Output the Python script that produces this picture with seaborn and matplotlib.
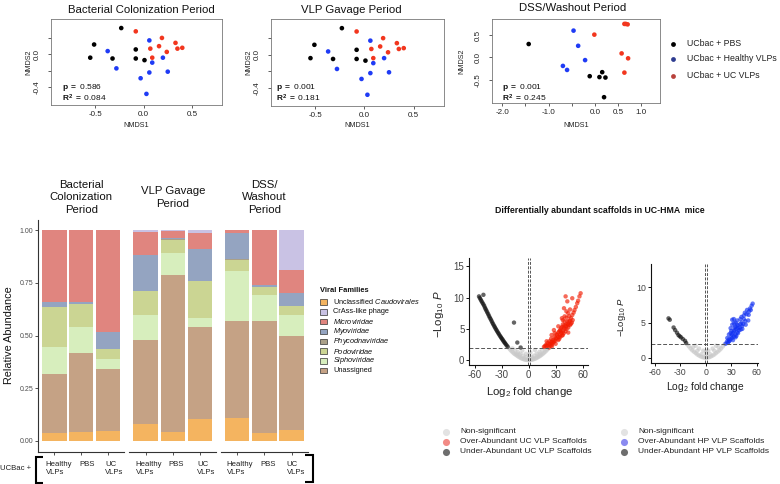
import numpy as np
import pandas as pd
import matplotlib
matplotlib.use("Agg")
import matplotlib.pyplot as plt
import seaborn as sns
from matplotlib.patches import Rectangle

sns.set_style("white")
plt.rcParams.update({
    "font.family": ["Liberation Sans", "DejaVu Sans"],
    "axes.unicode_minus": False,
    "mathtext.fontset": "custom",
    "mathtext.rm": "Liberation Sans",
    "mathtext.it": "Liberation Sans:italic",
    "mathtext.bf": "Liberation Sans:bold",
})

# ---------------- NMDS data ----------------
groups = ["UCbac + PBS", "UCbac + Healthy VLPs", "UCbac + UC VLPs"]

col_pbs_x = [-0.23, -0.51, -0.55, -0.32, -0.08, -0.08, 0.01]
col_pbs_y = [0.32, 0.12, -0.04, -0.05, 0.06, -0.05, -0.07]
col_hvlp_x = [0.06, -0.37, -0.28, 0.09, 0.20, 0.06, 0.25, -0.03, 0.03]
col_hvlp_y = [0.17, 0.04, -0.17, -0.10, -0.04, -0.22, -0.21, -0.29, -0.48]
col_uc_x = [-0.08, 0.19, 0.16, 0.07, 0.09, 0.24, 0.33, 0.35, 0.40]
col_uc_y = [0.28, 0.20, 0.10, 0.07, -0.04, 0.03, 0.14, 0.07, 0.08]

gav_pbs_x = [-0.23, -0.51, -0.55, -0.32, -0.08, -0.08, 0.01]
gav_pbs_y = [0.32, 0.12, -0.04, -0.05, 0.06, -0.05, -0.07]
gav_hvlp_x = [0.06, -0.37, -0.28, 0.09, 0.20, 0.06, 0.25, -0.03, 0.03]
gav_hvlp_y = [0.17, 0.04, -0.17, -0.10, -0.04, -0.22, -0.21, -0.29, -0.48]
gav_uc_x = [-0.08, 0.19, 0.16, 0.07, 0.09, 0.24, 0.33, 0.35, 0.40]
gav_uc_y = [0.28, 0.20, 0.10, 0.07, -0.04, 0.03, 0.14, 0.07, 0.08]

dss_pbs_x = [-1.43, -0.11, 0.10, 0.16, 0.23, 0.20]
dss_pbs_y = [0.30, -0.42, -0.44, -0.33, -0.45, -0.89]
dss_hvlp_x = [-0.46, -0.36, -0.21, -0.69, -0.60]
dss_hvlp_y = [0.60, 0.26, -0.06, -0.19, -0.28]
dss_uc_x = [0.64, 0.71, 0.67, -0.01, 0.58, 0.72, 0.64]
dss_uc_y = [0.75, 0.74, 0.75, 0.51, 0.09, -0.02, -0.34]

nmds_titles = ["Bacterial Colonization Period", "VLP Gavage Period", "DSS/Washout Period"]
nmds_p = ["0.586", "0.001", "0.001"]
nmds_r2 = ["0.084", "0.181", "0.245"]

# ---------------- Bar data ----------------
periods = ["Bacterial\nColonization\nPeriod", "VLP Gavage\nPeriod", "DSS/\nWashout\nPeriod"]
treatments = ["Healthy VLPs", "PBS", "UC VLPs"]
treat_labels = ["Healthy\nVLPs", "PBS", "UC\nVLPs"]
# order: colonization (H, PBS, UC), gavage (H, PBS, UC), DSS (H, PBS, UC)
ab_unclass_caudo = [0.037, 0.044, 0.046, 0.079, 0.044, 0.104, 0.109, 0.040, 0.052]
ab_unassigned    = [0.281, 0.372, 0.294, 0.400, 0.744, 0.439, 0.461, 0.531, 0.448]
ab_sipho         = [0.128, 0.124, 0.050, 0.119, 0.103, 0.039, 0.237, 0.122, 0.098]
ab_podo          = [0.191, 0.109, 0.047, 0.114, 0.064, 0.177, 0.052, 0.039, 0.043]
ab_phyco         = [0.000, 0.000, 0.000, 0.000, 0.005, 0.000, 0.006, 0.000, 0.000]
ab_myo           = [0.023, 0.012, 0.082, 0.171, 0.003, 0.151, 0.123, 0.010, 0.063]
ab_micro         = [0.340, 0.339, 0.481, 0.110, 0.034, 0.076, 0.012, 0.258, 0.106]
ab_crass         = [0.000, 0.000, 0.000, 0.007, 0.003, 0.014, 0.000, 0.000, 0.190]

legend_families = ["Unclassified Caudovirales", "CrAss-like phage", "Microviridae", "Myoviridae",
                   "Phycodnaviridae", "Podoviridae", "Siphoviridae", "Unassigned"]
legend_labels = [r"Unclassified $\mathit{Caudovirales}$", "CrAss-like phage", r"$\mathit{Microviridae}$",
                 r"$\mathit{Myoviridae}$", r"$\mathit{Phycodnaviridae}$", r"$\mathit{Podoviridae}$",
                 r"$\mathit{Siphoviridae}$", "Unassigned"]
fam_colors = {
    "Unclassified Caudovirales": "#F4B460",
    "CrAss-like phage": "#C9C2E4",
    "Microviridae": "#E0857F",
    "Myoviridae": "#94A4C1",
    "Phycodnaviridae": "#AAA088",
    "Podoviridae": "#CBD593",
    "Siphoviridae": "#D7EEBD",
    "Unassigned": "#C5A285",
}

# ---------------- Volcano data ----------------
v1_ns_x = [-22, -20.5, -19, -17.5, -16, -14.5, -13, -11.5, -10, -8.5, -7, -5.5, -4, -2.5, -1, 0.5, 2, 3.5, 5, 6.5,
           8, 9.5, 11, 12.5, 14, 15.5, 17, 18.5, 20, 21.5, 23, -15, -12, -9, -6, -3, 0, 3, 6, 9, 12, 15, 18, -18,
           -7, -3, 2, 7, 0, -10, 10, -5, 5, 13, -13]
v1_ns_y = [1.9, 1.65, 1.4, 1.2, 1.0, 0.85, 0.7, 0.55, 0.42, 0.3, 0.2, 0.12, 0.06, 0.02, 0.0, 0.0, 0.02, 0.05, 0.1,
           0.17, 0.26, 0.37, 0.5, 0.63, 0.78, 0.95, 1.13, 1.33, 1.55, 1.78, 1.95, 1.6, 1.3, 1.0, 0.7, 0.45, 0.35,
           0.45, 0.7, 1.0, 1.3, 1.6, 1.85, 1.85, 1.5, 1.0, 1.2, 1.6, 0.8, 0.8, 0.7, 0.35, 0.35, 1.0, 1.0]
v1_up_x = [22.6, 26, 29.5, 33, 36.5, 40, 43.5, 47, 50, 52.5, 55, 57.8, 56.5, 54, 51, 48.5, 45, 41.5, 38, 35, 31,
           27.5, 24.5, 17, 19, 21, 23, 25, 29, 33, 37, 39.3, 41.1, 48.5, 43, 28.1, 25.5, 20, 30, 32, 34, 36, 38,
           40, 42, 44, 46, 28, 26, 24, 20, 33, 37, 41, 44, 47, 49, 42, 39, 36, 35, 39, 45, 43, 46, 38, 40, 42,
           18, 21, 23, 25, 27, 29, 31, 33, 35, 37, 40, 26, 30, 34, 38, 42, 44, 46, 48, 44]
v1_up_y = [2.0, 2.5, 3.1, 3.7, 4.3, 5.0, 5.8, 6.7, 7.6, 8.5, 9.5, 10.7, 10.2, 9.1, 8.0, 7.2, 6.2, 5.4, 4.6, 4.0,
           3.4, 2.8, 2.3, 2.1, 2.4, 2.7, 3.0, 3.4, 4.3, 5.4, 6.7, 8.3, 10.2, 9.9, 9.4, 4.8, 4.0, 3.0, 3.5, 4.0,
           4.6, 5.1, 5.7, 6.2, 6.8, 7.5, 8.1, 3.0, 2.8, 2.6, 2.3, 3.2, 3.9, 4.6, 5.2, 5.8, 6.4, 5.7, 5.2, 4.6,
           3.7, 4.3, 7.0, 6.2, 5.6, 6.4, 7.0, 7.8,
           2.2, 2.3, 2.5, 2.9, 3.2, 3.7, 4.1, 4.4, 4.8, 5.3, 5.6, 2.2, 2.6, 3.4, 4.0, 5.0, 5.6, 6.3, 6.0, 4.4]
v1_down_x = [-55.2, -54.3, -53.4, -52.5, -51.5, -50.5, -49.5, -48.6, -47.8, -46.9, -46, -45, -44.1, -43.2, -42.2,
             -41.3, -40.4, -39.5, -38.5, -37.6, -36.7, -35.8, -34.9, -33.9, -33, -32, -31, -30.2, -29.3, -28.4,
             -27.5, -26.5, -25.6, -24.5, -23.3, -50.3, -16.3, -12.6, -8.9]
v1_down_y = [10.2, 9.95, 9.7, 9.45, 9.2, 8.95, 8.7, 8.4, 8.15, 7.9, 7.62, 7.35, 7.07, 6.8, 6.55, 6.28, 6.0, 5.75,
             5.5, 5.26, 5.03, 4.8, 4.57, 4.35, 4.13, 3.9, 3.7, 3.5, 3.33, 3.13, 2.93, 2.75, 2.57, 2.35, 2.14,
             10.45, 6.0, 2.8, 2.0]

v2_ns_x = [-22, -20, -18, -16, -14, -12, -10, -8, -6, -4, -2, 0, 2, 4, 6, 8, 10, 12, 14, 16, 18, 20, 22,
           -15, -10, -5, 0, 5, 10, 15, -8, 8, 0, -12, 12, -3, 3]
v2_ns_y = [1.9, 1.6, 1.3, 1.05, 0.85, 0.65, 0.45, 0.3, 0.17, 0.07, 0.02, 0.0, 0.02, 0.07, 0.17, 0.3, 0.45, 0.65,
           0.85, 1.05, 1.3, 1.6, 1.9, 1.5, 1.0, 0.5, 0.4, 0.5, 1.0, 1.5, 1.3, 1.3, 0.9, 1.7, 1.7, 1.0, 1.0]
v2_up_x = [23.3, 27, 31, 35, 39, 42.7, 46.6, 50.5, 53, 55.2, 54, 52, 25.3, 27.2, 29.2, 29.2, 31.1, 31.1, 33, 33,
           35, 35, 36.9, 36.9, 38, 40.8, 40.8, 42, 44.7, 46, 48.6, 33, 29, 27, 38, 43, 47, 50, 31, 25, 33, 34,
           30, 32, 36, 26, 28, 30, 32, 34, 36, 38, 40, 42, 45, 48, 51, 35, 37, 41, 44]
v2_up_y = [2.0, 2.3, 2.8, 3.3, 3.9, 4.5, 5.2, 6.1, 6.8, 7.7, 7.4, 7.0, 2.8, 3.3, 3.5, 4.2, 4.7, 5.4, 5.5, 4.9,
           4.4, 5.0, 4.7, 5.3, 4.2, 4.8, 5.5, 5.8, 6.0, 6.4, 6.8, 3.8, 2.6, 2.6, 3.5, 4.1, 4.7, 5.3, 3.3, 2.3, 3.0,
           4.3, 3.8, 2.5, 3.1, 2.1, 2.4, 3.0, 3.5, 3.9, 4.1, 4.6, 4.3, 5.0, 5.5, 6.2, 6.6, 2.9, 3.6, 4.0, 4.8]
v2_down_x = [-44.0, -42.5, -38, -36.2, -34, -32.3, -30.8, -29.2, -27, -24.5, -23.3]
v2_down_y = [5.6, 5.4, 4.3, 3.93, 3.55, 3.22, 3.05, 2.9, 2.65, 2.4, 2.1]

volcano_classes = ["Non-significant", "Over-Abundant", "Under-Abundant"]

# ---------------- figure ----------------
W, H = 780, 484
fig = plt.figure(figsize=(W / 100, H / 100), dpi=100)


def px_axes(l, t, r, b, **kw):
    return fig.add_axes([l / W, 1 - b / H, (r - l) / W, (b - t) / H], **kw)


def ax_coords(box, px, py):
    l, t, r, b = box
    return (px - l) / (r - l), (b - py) / (b - t)


def place_xlabel(ax, box, px, py):
    ax.xaxis.set_label_coords(*ax_coords(box, px, py))
    ax.xaxis.label.set_verticalalignment("center")
    ax.xaxis.label.set_horizontalalignment("center")


def place_ylabel(ax, box, px, py):
    ax.yaxis.set_label_coords(*ax_coords(box, px, py))
    ax.yaxis.label.set_verticalalignment("center")
    ax.yaxis.label.set_horizontalalignment("center")


nmds_palette = {"UCbac + PBS": "#000000", "UCbac + Healthy VLPs": "#1F3BF5", "UCbac + UC VLPs": "#F2361E"}


def nmds_panel(box, xs, ys, xlim, ylim, xticks, xtl, yticks, ytl, ylab_px):
    ax = px_axes(*box)
    rows = []
    for g, xv, yv in zip(groups, xs, ys):
        rows.append(pd.DataFrame({"NMDS1": xv, "NMDS2": yv, "group": g}))
    df = pd.concat(rows, ignore_index=True)
    sns.scatterplot(data=df, x="NMDS1", y="NMDS2", hue="group", hue_order=groups, palette=nmds_palette,
                    s=11, linewidth=0, legend=False, ax=ax)
    ax.set_xlim(xlim)
    ax.set_ylim(ylim)
    ax.set_xticks(xticks)
    ax.set_xticklabels(xtl)
    ax.set_yticks(yticks)
    ax.set_yticklabels(ytl, rotation=90, va="center")
    for s in ax.spines.values():
        s.set_color("#777777")
        s.set_linewidth(0.6)
    ax.tick_params(axis="both", direction="out", length=2.5, width=0.6, color="#444444",
                   labelsize=5.8, labelcolor="#222222", bottom=True, left=True)
    ax.tick_params(axis="x", pad=1.5)
    ax.tick_params(axis="y", pad=5)
    ax.set_xlabel("NMDS1", fontsize=5.2, color="#222222")
    ax.set_ylabel("NMDS2", fontsize=5.2, color="#222222")
    place_xlabel(ax, box, (box[0] + box[2]) / 2, 125.5)
    place_ylabel(ax, box, ylab_px, (box[1] + box[3]) / 2)
    return ax


box1 = (51, 19, 222, 105)
box2 = (270.7, 19, 444, 106)
box3 = (491.7, 19, 660, 103)
ax1 = nmds_panel(box1, [col_pbs_x, col_hvlp_x, col_uc_x], [col_pbs_y, col_hvlp_y, col_uc_y],
                 (-0.955, 0.81), (-0.615, 0.43), [-0.5, 0.0, 0.5], ["-0.5", "0.0", "0.5"],
                 [-0.4, -0.2, 0.0, 0.2], ["-0.4", "", "0.0", ""], 29)
ax2 = nmds_panel(box2, [gav_pbs_x, gav_hvlp_x, gav_uc_x], [gav_pbs_y, gav_hvlp_y, gav_uc_y],
                 (-0.955, 0.81), (-0.615, 0.43), [-0.5, 0.0, 0.5], ["-0.5", "0.0", "0.5"],
                 [-0.4, -0.2, 0.0, 0.2], ["-0.4", "", "0.0", ""], 249)
ax3 = nmds_panel(box3, [dss_pbs_x, dss_hvlp_x, dss_uc_x], [dss_pbs_y, dss_hvlp_y, dss_uc_y],
                 (-2.23, 1.41), (-1.02, 0.86), [-2.0, -1.5, -1.0, -0.5, 0.0, 0.5, 1.0],
                 ["-2.0", "", "-1.0", "", "0.0", "0.5", "1.0"], [-0.5, 0.0, 0.5], ["-0.5", "0.0", "0.5"], 462)

# ---------------- stacked bars ----------------
stack_order = ["Unclassified Caudovirales", "Unassigned", "Siphoviridae", "Podoviridae", "Phycodnaviridae",
               "Myoviridae", "Microviridae", "CrAss-like phage"]
stack_vals = {"Unclassified Caudovirales": ab_unclass_caudo, "Unassigned": ab_unassigned,
              "Siphoviridae": ab_sipho, "Podoviridae": ab_podo, "Phycodnaviridae": ab_phyco,
              "Myoviridae": ab_myo, "Microviridae": ab_micro, "CrAss-like phage": ab_crass}

bar_boxes = [(38.3, 219.8, 124.4, 451.5), (129.4, 219.8, 216.3, 451.5), (221.0, 219.8, 307.8, 451.5)]
bar_axes = []
for pi, bbox in enumerate(bar_boxes):
    ax = px_axes(*bbox)
    sl = slice(3 * pi, 3 * pi + 3)
    cum = np.zeros(3)
    cums = []
    for fam in stack_order:
        cum = cum + np.array(stack_vals[fam][sl])
        cums.append((fam, cum.copy()))
    for fam, c in reversed(cums):
        d = pd.DataFrame({"treatment": treatments, "value": c})
        sns.barplot(data=d, x="treatment", y="value", order=treatments, color=fam_colors[fam],
                    saturation=1, width=0.9, linewidth=0, errorbar=None, ax=ax)
    ax.set_xlim(-0.6, 2.6)
    ax.set_ylim(-0.05, 1.05)
    ax.set_xlabel("")
    ax.set_ylabel("")
    ax.set_xticks([0, 1, 2])
    ax.set_xticklabels(["", "", ""])
    for s in ["top", "right"]:
        ax.spines[s].set_visible(False)
    ax.spines["bottom"].set_color("#333333")
    ax.spines["bottom"].set_linewidth(0.8)
    if pi == 0:
        ax.spines["left"].set_color("#333333")
        ax.spines["left"].set_linewidth(0.8)
        ax.set_yticks([0, 0.25, 0.5, 0.75, 1.0])
        ax.set_yticklabels(["0.00", "0.25", "0.50", "0.75", "1.00"])
        ax.tick_params(axis="y", left=True, length=2, width=0.6, color="#333333", labelsize=5.0,
                       labelcolor="#4D4D4D", pad=1.5)
        ax.set_ylabel("Relative Abundance", fontsize=7.8, color="#111111")
        place_ylabel(ax, bbox, 8.8, 335)
    else:
        ax.spines["left"].set_visible(False)
        ax.set_yticks([])
    ax.tick_params(axis="x", bottom=True, length=2, width=0.6, color="#333333")
    ax.set_title(periods[pi], fontsize=8.2, color="#111111", pad=0, y=1.0, va="center",
                 linespacing=1.28)
    ax.title.set_position(ax_coords(bbox, (bbox[0] + bbox[2]) / 2, 197.5))
    bar_axes.append(ax)

# ---------------- volcano plots ----------------
vol_palettes = [{"Non-significant": "#C8C8C8", "Over-Abundant": "#F21A00", "Under-Abundant": "#111111"},
                {"Non-significant": "#C8C8C8", "Over-Abundant": "#1030F2", "Under-Abundant": "#111111"}]


def volcano(box, ns, up, down, pal, ylim, yticks, xlim, ysize, ticksize, xlab_py, ylab_px, xlabsize):
    ax = px_axes(*box)
    frames = [pd.DataFrame({"lfc": ns[0], "logp": ns[1], "cls": "Non-significant"}),
              pd.DataFrame({"lfc": up[0], "logp": up[1], "cls": "Over-Abundant"}),
              pd.DataFrame({"lfc": down[0], "logp": down[1], "cls": "Under-Abundant"})]
    df = pd.concat(frames, ignore_index=True)
    sns.scatterplot(data=df, x="lfc", y="logp", hue="cls", hue_order=volcano_classes, palette=pal,
                    s=10, alpha=0.65, linewidth=0, legend=False, ax=ax)
    for xv in (-1.2, 1.2):
        ax.axvline(xv, color="#555555", lw=0.7, ls=(0, (3, 1.5)))
    ax.axhline(2, color="#555555", lw=0.7, ls=(0, (4, 2)))
    ax.set_xlim(xlim)
    ax.set_ylim(ylim)
    ax.set_xticks([-60, -30, 0, 30, 60])
    ax.set_yticks(yticks)
    for s in ["top", "right"]:
        ax.spines[s].set_visible(False)
    for s in ["left", "bottom"]:
        ax.spines[s].set_color("#111111")
        ax.spines[s].set_linewidth(0.8)
    ax.tick_params(axis="both", direction="out", length=2, width=0.7, color="#111111",
                   labelsize=ticksize, labelcolor="#444444", pad=1.5, bottom=True, left=True)
    ax.set_xlabel(r"Log$_2$ fold change", fontsize=xlabsize, color="#222222")
    ax.set_ylabel(r"$-$Log$_{10}$ $\mathit{P}$", fontsize=ysize, color="#222222")
    place_xlabel(ax, box, box[0] + (box[2] - box[0]) * 0.5 + 1, xlab_py)
    place_ylabel(ax, box, ylab_px, (box[1] + box[3]) / 2 + 3)
    return ax


vbox1 = (469.3, 257.7, 588, 365)
vbox2 = (650.7, 264.3, 758, 363.3)
vax1 = volcano(vbox1, (v1_ns_x, v1_ns_y), (v1_up_x, v1_up_y), (v1_down_x, v1_down_y), vol_palettes[0],
               (-0.8, 16.4), [0, 5, 10, 15], (-66, 66), 8.2, 7.0, 391.7, 439, 8.2)
vax2 = volcano(vbox2, (v2_ns_x, v2_ns_y), (v2_up_x, v2_up_y), (v2_down_x, v2_down_y), vol_palettes[1],
               (-0.8, 13.3), [0, 5, 10], (-65, 61.5), 6.8, 6.3, 386.7, 622, 7.4)

# ---------------- overlay annotations ----------------
ov = fig.add_axes([0, 0, 1, 1], zorder=10)
ov.set_xlim(0, W)
ov.set_ylim(H, 0)
ov.axis("off")
ov.patch.set_alpha(0)

# NMDS titles and stats
for (cx, cy), t in zip([(141, 10), (351, 10), (573, 8)], nmds_titles):
    ov.text(cx, cy, t, fontsize=8.2, ha="center", va="center", color="#111111")
for (sx, sy1, sy2), p, r2 in zip([(61.5, 87.3, 97.9), (275.5, 87.3, 97.9), (502.5, 87.7, 97.9)], nmds_p, nmds_r2):
    ov.text(sx, sy1, r"$\mathbf{p}$ $\mathbf{=}$ " + p, fontsize=6.0, ha="left", va="center", color="#111111")
    ov.text(sx, sy2, r"$\mathbf{R^2}$ $\mathbf{=}$ " + r2, fontsize=6.0, ha="left", va="center", color="#111111")

# NMDS legend
leg_cols = ["#000000", "#2E3C90", "#B8423C"]
for yy, g, c in zip([43.7, 58.5, 75.5], groups, leg_cols):
    ov.scatter([673], [yy], s=12, color=c, linewidths=0)
    ov.text(687, yy, g, fontsize=6.3, ha="left", va="center", color="#222222")

# bar x labels
label_pos = [(45.7, 79.7, 105), (135.7, 168.7, 197.3), (226.7, 260, 286.7)]
for xs in label_pos:
    for x0, lab in zip(xs, treat_labels):
        ov.text(x0, 461.5, lab, fontsize=5.6, ha="left", va="top", color="#222222", linespacing=1.15)
ov.text(0.5, 468, "UCBac +", fontsize=5.6, ha="left", va="center", color="#222222")
ov.plot([43, 36.2, 36.2, 43], [456.5, 456.5, 482.8, 482.8], color="#000000", lw=1.5,
        solid_capstyle="butt", solid_joinstyle="miter")
ov.plot([305, 312.8, 312.8, 305], [455.2, 455.2, 481.8, 481.8], color="#000000", lw=1.5,
        solid_capstyle="butt", solid_joinstyle="miter")

# bar legend
ov.text(320.5, 290, "Viral Families", fontsize=5.4, fontweight="bold", ha="left", va="center", color="#111111")
for i, (fam, lab) in enumerate(zip(legend_families, legend_labels)):
    yy = 302 + i * 9.82
    ov.add_patch(Rectangle((319.5, yy - 2.7), 7.8, 5.4, facecolor=fam_colors[fam], edgecolor="#333333", lw=0.5))
    ov.text(333.3, yy, lab, fontsize=5.3, ha="left", va="center", color="#111111")

# volcano title
ov.text(600, 210.7, "Differentially abundant scaffolds in UC-HMA  mice", fontsize=6.3, fontweight="bold",
        ha="center", va="center", color="#111111")

# volcano legends
vleg = [(445.7, 460, ["#E3E3E3", "#F28A85", "#6E6E6E"],
         ["Non-significant", "Over-Abundant UC VLP Scaffolds", "Under-Abundant UC VLP Scaffolds"]),
        (624.3, 638.3, ["#E3E3E3", "#8A8AF0", "#6E6E6E"],
         ["Non-significant", "Over-Abundant HP VLP Scaffolds", "Under-Abundant HP VLP Scaffolds"])]
for mx, tx, cols, labs in vleg:
    for j, (c, lab) in enumerate(zip(cols, labs)):
        yy = 431.7 + j * 10
        ov.scatter([mx], [yy], s=26, color=c, linewidths=0)
        ov.text(tx, yy, lab, fontsize=6.0, ha="left", va="center", color="#222222")

fig.savefig("out.png", dpi=100)
